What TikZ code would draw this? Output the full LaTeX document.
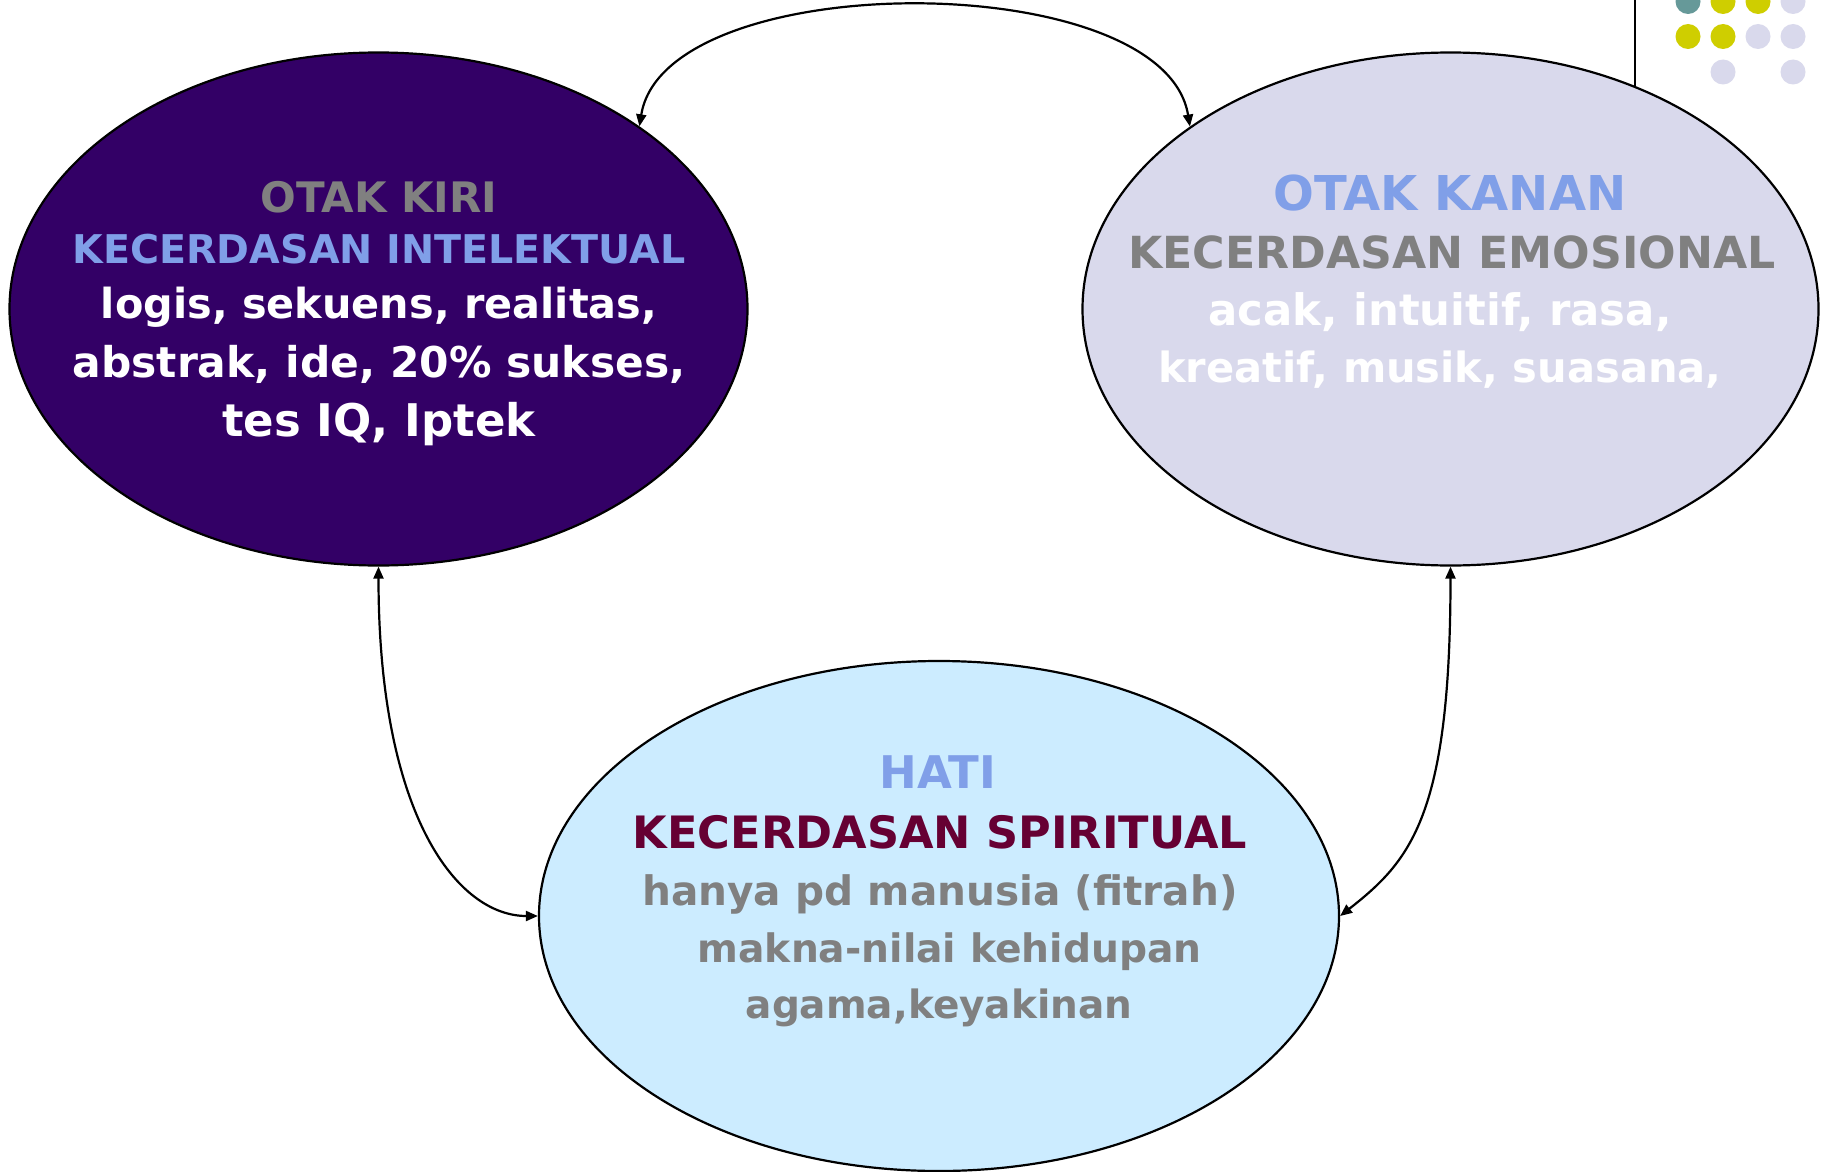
\documentclass[tikz,border=0pt]{standalone}
\usepackage{fontspec}
\setmainfont{DejaVu Sans}
\usetikzlibrary{shapes.geometric,arrows.meta}
\definecolor{kiri}{HTML}{330066}
\definecolor{kanan}{HTML}{D9D9EC}
\definecolor{hati}{HTML}{CCECFF}
\definecolor{tgray}{HTML}{808080}
\definecolor{tblue}{HTML}{809FE8}
\definecolor{tred}{HTML}{660033}
\definecolor{dyellow}{HTML}{CFCE00}
\definecolor{dteal}{HTML}{669999}
\begin{document}
\begin{tikzpicture}[x=1pt,y=-1pt,
  blob/.style={ellipse, draw=black, line width=2.2pt, inner sep=0pt},
  lbl/.style={anchor=base, inner sep=0pt},
  link/.style={line width=2.2pt, {Triangle[length=12pt,width=10pt]}-{Triangle[length=12pt,width=10pt]}},
  dot/.style={circle, inner sep=0pt, minimum size=25pt}]
\useasboundingbox[fill=white] (0,0) rectangle (1829,1172);
% decorative corner
\coordinate (vtop) at (1635,0);
\coordinate (vbot) at (1635,87);
\draw[line width=2.4pt] (vtop) -- (vbot);
\node[dot, fill=dteal]   (d11) at (1688,1.5) {};
\node[dot, fill=dyellow] (d12) at (1723,1.5) {};
\node[dot, fill=dyellow] (d13) at (1758,1.5) {};
\node[dot, fill=kanan]   (d14) at (1793,1.5) {};
\node[dot, fill=dyellow] (d21) at (1688,36.5) {};
\node[dot, fill=dyellow] (d22) at (1723,36.5) {};
\node[dot, fill=kanan]   (d23) at (1758,36.5) {};
\node[dot, fill=kanan]   (d24) at (1793,36.5) {};
\node[dot, fill=kanan]   (d32) at (1723,72) {};
\node[dot, fill=kanan]   (d34) at (1793,72) {};
% ellipses
\node[blob, fill=kiri,  minimum width=738pt, minimum height=513pt] (L) at (378.5,309) {};
\node[blob, fill=kanan, minimum width=736pt, minimum height=513pt] (R) at (1450.5,309) {};
\node[blob, fill=hati,  minimum width=800pt, minimum height=510pt] (H) at (939,916) {};
% connectors
\draw[link] (L.35) .. controls (665,-34) and (1164,-34) .. (R.145);
\draw[link] (L.south) .. controls +(0,250) and +(-80,0) .. (H.west);
\draw[link] (R.south) .. controls +(0,250) and +(70,-55) .. (H.east);
% left text
\node[lbl, text=tgray, font=\bfseries\fontsize{42}{50}\selectfont] (l1) at (379,212) {OTAK KIRI};
\node[lbl, text=tblue, font=\bfseries\fontsize{39.6}{48}\selectfont] (l2) at (379,263) {KECERDASAN INTELEKTUAL};
\node[lbl, text=white, font=\bfseries\fontsize{41.4}{48}\selectfont] (l3) at (379,318) {logis, sekuens, realitas,};
\node[lbl, text=white, font=\bfseries\fontsize{42.4}{48}\selectfont] (l4) at (379,377) {abstrak, ide, 20\% sukses,};
\node[lbl, text=white, font=\bfseries\fontsize{45}{48}\selectfont] (l5) at (379,436) {tes IQ, Iptek};
% right text
\node[lbl, text=tblue, font=\bfseries\fontsize{48}{56}\selectfont] (r1) at (1450,210) {OTAK KANAN};
\node[lbl, text=tgray, font=\bfseries\fontsize{44.2}{52}\selectfont] (r2) at (1452,268) {KECERDASAN EMOSIONAL};
\node[lbl, text=white, font=\bfseries\fontsize{43.4}{50}\selectfont] (r3) at (1440,325) {acak, intuitif, rasa,};
\node[lbl, text=white, font=\bfseries\fontsize{41.6}{50}\selectfont] (r4) at (1440,382) {kreatif, musik, suasana,};
% bottom text
\node[lbl, text=tblue, font=\bfseries\fontsize{45}{52}\selectfont] (h1) at (938,788) {HATI};
\node[lbl, text=tred, font=\bfseries\fontsize{44.6}{52}\selectfont] (h2) at (940,848) {KECERDASAN SPIRITUAL};
\node[lbl, text=tgray, font=\bfseries\fontsize{40.6}{48}\selectfont] (h3) at (940,905) {hanya pd manusia (fitrah)};
\node[lbl, text=tgray, font=\bfseries\fontsize{39.2}{48}\selectfont] (h4) at (949.5,962) {makna-nilai kehidupan};
\node[lbl, text=tgray, font=\bfseries\fontsize{39}{48}\selectfont] (h5) at (939,1018) {agama,keyakinan};
\end{tikzpicture}
\end{document}
